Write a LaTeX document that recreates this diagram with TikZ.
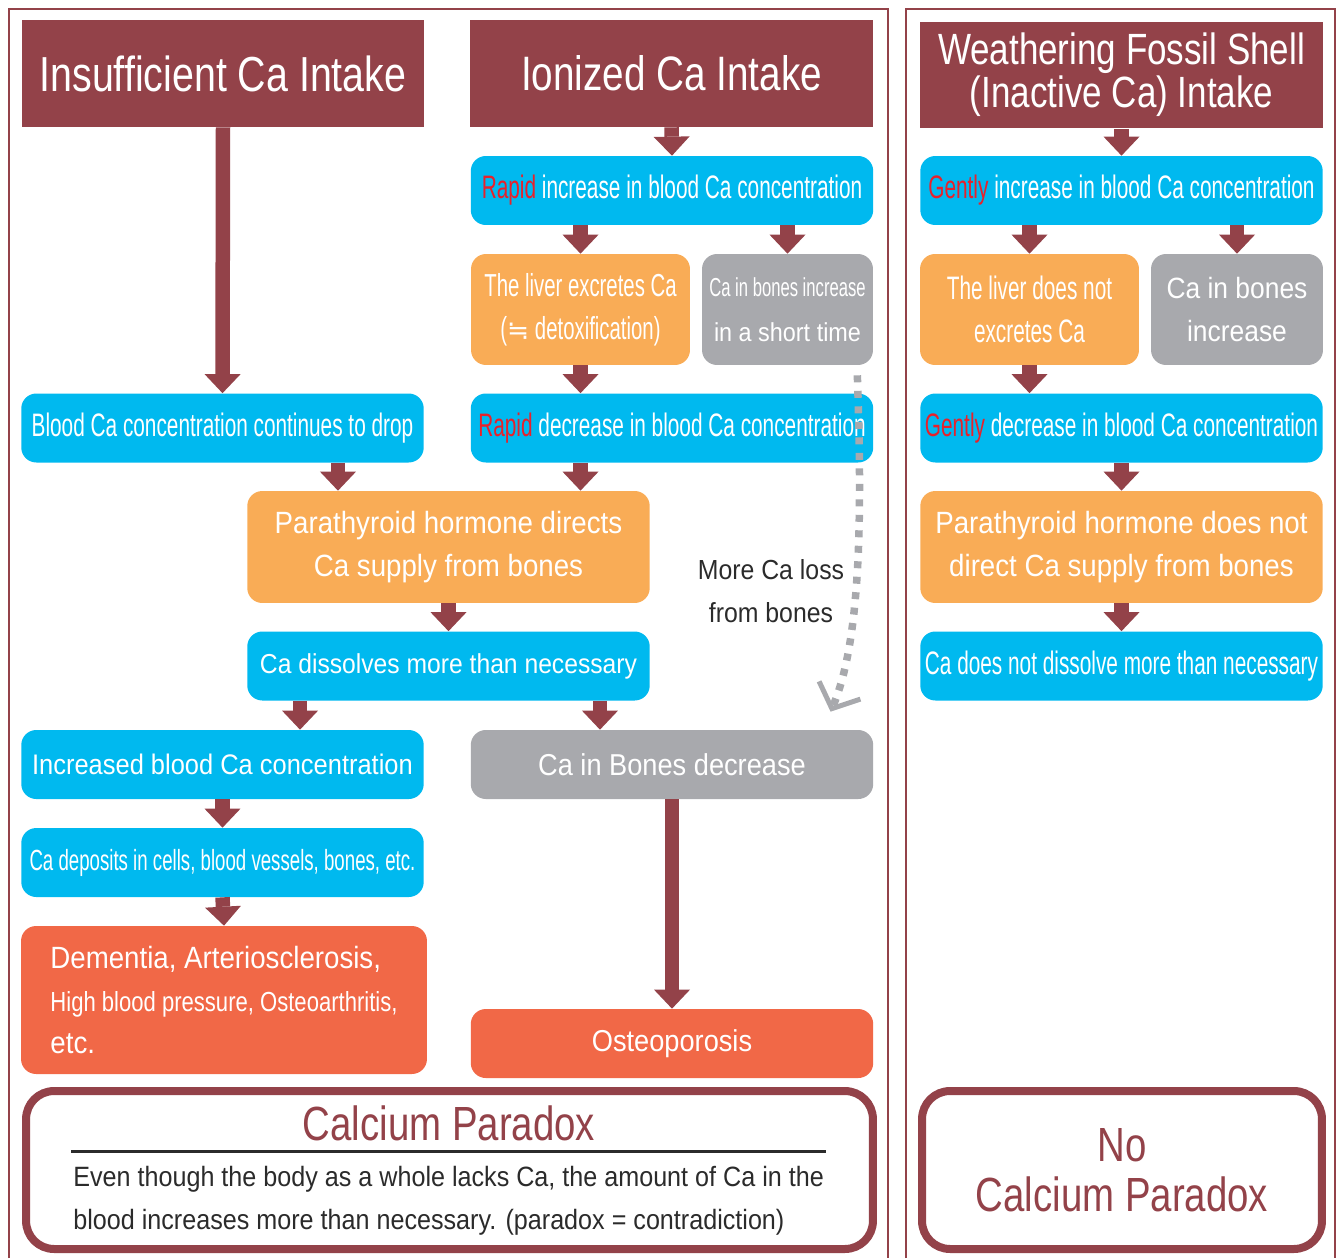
\documentclass[tikz,border=0pt]{standalone}
\usepackage{fontspec}
\usetikzlibrary{arrows.meta}
\setmainfont{Liberation Sans}[FakeStretch=0.9]
\newfontfamily\narrowfont{Liberation Sans}[FakeStretch=0.64]
\newfontfamily\titlefont{Liberation Sans}[FakeStretch=0.8]
\newfontfamily\symfont{DejaVu Sans}
\definecolor{dred}{HTML}{934249}
\definecolor{cblue}{HTML}{00B9EF}
\definecolor{corange}{HTML}{F9AC56}
\definecolor{cgray}{HTML}{A8A9AD}
\definecolor{cred}{HTML}{F16847}
\definecolor{txtred}{HTML}{E8212B}
\definecolor{txtdark}{HTML}{2B2B2B}

\begin{document}
\begin{tikzpicture}[x=0.02cm,y=-0.02cm,
  head/.style={fill=dred,text=white,minimum width=8.06cm,minimum height=2.14cm,inner sep=0pt,align=center,font=\titlefont\fontsize{28}{24.4}\selectfont},
  card/.style={rounded corners=0.3cm,text=white,inner sep=0pt,align=center,minimum width=8.05cm,minimum height=1.38cm},
  bluebox/.style={card,fill=cblue,font=\narrowfont\fontsize{18.5}{24.4}\selectfont},
  orangebox/.style={card,fill=corange,font=\fontsize{17.5}{24.4}\selectfont},
  graybox/.style={card,fill=cgray,font=\fontsize{17.2}{24.4}\selectfont},
  redbox/.style={card,fill=cred,font=\fontsize{17.5}{24.4}\selectfont},
  sumbox/.style={draw=dred,line width=0.16cm,rounded corners=0.56cm,fill=white,minimum height=3.16cm,inner sep=0pt},
  flow/.style={draw=dred,line width=0.29cm,-{Triangle[width=0.72cm,length=0.38cm,line width=0pt]}},
  lossline/.style={draw=cgray,line width=0.15cm,dash pattern=on 0.14cm off 0.17cm,-{Straight Barb[length=0.4cm,width=0.9cm,line width=0.1cm]}}]
\useasboundingbox (0,0) rectangle (1339,1258);
\draw[dred,line width=0.05cm] (9,1258) |- (888,9) -- (888,1258);
\draw[dred,line width=0.05cm] (906,1258) |- (1335,9) -- (1335,1258);

\node[head] (ins) at (223,73.5) {Insufficient Ca Intake};
\node[head,font=\titlefont\fontsize{27.5}{24.4}\selectfont] (ion) at (671.5,73.5) {Ionized Ca Intake};
\node[head,font=\titlefont\fontsize{24.9}{24.4}\selectfont] (fos) at (1121.5,75) {Weathering Fossil Shell\\(Inactive Ca) Intake};

\node[bluebox] (rinc) at (672,190.5) {\textcolor{txtred}{Rapid} increase in blood Ca concentration};
\node[orangebox,minimum width=4.38cm,minimum height=2.22cm,font=\narrowfont\fontsize{18.1}{24.4}\selectfont] (liver) at (580.5,309.5) {The liver excretes Ca\\({\symfont\fontsize{15}{24.4}\selectfont ≒} detoxification)};
\node[graybox,minimum width=3.42cm,minimum height=2.22cm,font=\fontsize{14.8}{25.5}\selectfont] (quick) at (787.5,309.5) {{\narrowfont Ca in bones increase}\\in a short time};
\node[bluebox] (drop) at (222.5,428) {Blood Ca concentration continues to drop};
\node[bluebox] (rdec) at (672,428) {\textcolor{txtred}{Rapid} decrease in blood Ca concentration};
\node[orangebox,minimum height=2.24cm] (pth) at (448.5,547) {Parathyroid hormone directs\\Ca supply from bones};
\node[bluebox,font=\fontsize{15.6}{24.4}\selectfont] (diss) at (448.5,666) {Ca dissolves more than necessary};
\node[bluebox,font=\fontsize{16.1}{24.4}\selectfont] (incr) at (222.5,764.5) {Increased blood Ca concentration};
\node[graybox] (bdec) at (672,764.5) {Ca in Bones decrease};
\node[bluebox,font=\narrowfont\fontsize{16.6}{24.4}\selectfont] (depo) at (222.5,862.5) {Ca deposits in cells, blood vessels, bones, etc.};
\node[redbox,minimum width=8.12cm,minimum height=2.96cm,align=left] (dem) at (224,1000) {Dementia, Arteriosclerosis,\\{\titlefont\fontsize{15.7}{24.4}\selectfont High blood pressure, Osteoarthritis,}\\etc.};
\node[redbox,font=\fontsize{17.2}{24.4}\selectfont] (ost) at (672,1043.5) {Osteoporosis};
\node[text=txtdark,align=center,font=\fontsize{15.7}{24.4}\selectfont] (lossnote) at (771,591) {More Ca loss\\from bones};

\node[bluebox] (ginc) at (1121.5,190.5) {\textcolor{txtred}{Gently} increase in blood Ca concentration};
\node[orangebox,minimum width=4.38cm,minimum height=2.22cm,font=\narrowfont\fontsize{18.5}{24.4}\selectfont] (lnot) at (1029.5,309.5) {The liver does not\\excretes Ca};
\node[graybox,minimum width=3.44cm,minimum height=2.22cm,font=\fontsize{16.7}{24.4}\selectfont] (bup) at (1237,309.5) {Ca in bones\\increase};
\node[bluebox] (gdec) at (1121.5,428) {\textcolor{txtred}{Gently} decrease in blood Ca concentration};
\node[orangebox,minimum height=2.24cm] (pnot) at (1121.5,547) {Parathyroid hormone does not\\direct Ca supply from bones};
\node[bluebox] (dnot) at (1121.5,666) {Ca does not dissolve more than necessary};

\node[sumbox,minimum width=16.94cm] (para) at (449.5,1170) {};
\node[text=dred,font=\titlefont\fontsize{27.3}{28}\selectfont] (ptitle) at (449,1123) {Calcium Paradox};
\draw[line width=0.06cm,txtdark] (71,1151) -- (826,1151);
\node[anchor=west,align=left,inner sep=0pt,text=txtdark,font=\fontsize{15.9}{24.4}\selectfont] (ptext) at (73,1201) {Even though the body as a whole lacks Ca, the amount of Ca in the\\blood increases more than necessary. (paradox = contradiction)};
\node[sumbox,minimum width=8cm,text=dred,align=center,font=\titlefont\fontsize{27.3}{28.3}\selectfont] (nopara) at (1122,1170) {No\\Calcium Paradox};

\coordinate (d0) at ([xshift=2.31cm]drop.south);
\coordinate (d1) at ([xshift=-2.97cm]diss.south);
\coordinate (d2) at ([xshift=3.03cm]diss.south);
\draw[flow] (ins.south) -- (drop.north);
\draw[flow] (ion.south) -- (rinc.north);
\draw[flow] (rinc.south -| liver.north) -- (liver.north);
\draw[flow] (rinc.south -| quick.north) -- (quick.north);
\draw[flow] (liver.south) -- (liver.south |- rdec.north);
\draw[flow] (d0) -- (d0 |- pth.north);
\draw[flow] (rdec.south -| liver.south) -- (pth.north -| liver.south);
\draw[flow] (pth.south) -- (diss.north);
\draw[flow] (d1) -- (d1 |- incr.north);
\draw[flow] (d2) -- (d2 |- bdec.north);
\draw[flow] (incr.south) -- (depo.north);
\draw[flow] (depo.south) -- (dem.north);
\draw[flow] (bdec.south) -- (ost.north);
\draw[flow] (fos.south) -- (ginc.north);
\draw[flow] (ginc.south -| lnot.north) -- (lnot.north);
\draw[flow] (ginc.south -| bup.north) -- (bup.north);
\draw[flow] (lnot.south) -- (lnot.south |- gdec.north);
\draw[flow] (gdec.south) -- (pnot.north);
\draw[flow] (pnot.south) -- (dnot.north);
\draw[lossline] ([shift={(-16,10)}]quick.south east) .. controls +(5,145) and +(30,-70) .. ([shift={(-43,-18)}]bdec.north east);
\end{tikzpicture}
\end{document}
